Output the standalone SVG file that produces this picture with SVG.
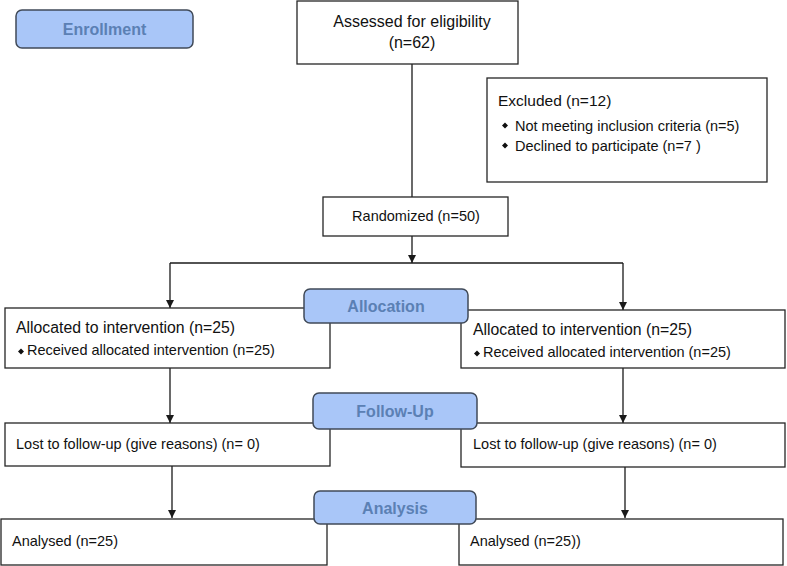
<svg xmlns="http://www.w3.org/2000/svg" width="787" height="566" viewBox="0 0 787 566">
<style>
.box{fill:#fff;stroke:#262626;stroke-width:1.3}
.ban{fill:#a9c6f8;stroke:#404a58;stroke-width:1.5}
.bt{font-family:"Liberation Sans",Arial,sans-serif;font-weight:bold;font-size:16px;fill:#5b80b4;text-anchor:middle}
.t{font-family:"Liberation Sans",Arial,sans-serif;font-size:14.5px;fill:#111}
.c{text-anchor:middle}
.ln{stroke:#1a1a1a;stroke-width:1.3;fill:none}
</style>
<defs>
<marker id="ah" viewBox="0 0 10 10" refX="10" refY="5" markerWidth="8" markerHeight="8" markerUnits="userSpaceOnUse" orient="auto">
<path d="M0,0 L10,5 L0,10 Z" fill="#1a1a1a"/>
</marker>
</defs>
<rect width="787" height="566" fill="#fff"/>

<g id="connectors">
<line class="ln" x1="412" y1="64" x2="412" y2="197"/>
<line class="ln" x1="412" y1="236" x2="412" y2="263" marker-end="url(#ah)"/>
<line class="ln" x1="170" y1="263" x2="623" y2="263"/>
<line class="ln" x1="170" y1="263" x2="170" y2="308" marker-end="url(#ah)"/>
<line class="ln" x1="623" y1="263" x2="623" y2="310" marker-end="url(#ah)"/>
<line class="ln" x1="170" y1="368" x2="170" y2="423" marker-end="url(#ah)"/>
<line class="ln" x1="623" y1="368" x2="623" y2="423" marker-end="url(#ah)"/>
<line class="ln" x1="172" y1="466" x2="172" y2="518" marker-end="url(#ah)"/>
<line class="ln" x1="625" y1="467" x2="625" y2="518" marker-end="url(#ah)"/>
</g>

<g id="assessed">
<rect class="box" x="297" y="1" width="221" height="63"/>
<text class="t c" x="412" y="27" style="font-size:16px">Assessed for eligibility</text>
<text class="t c" x="412" y="48" style="font-size:16px">(n=62)</text>
</g>

<g id="excluded">
<rect class="box" x="487" y="78" width="280" height="104"/>
<text class="t" x="498" y="106" style="font-size:15.5px">Excluded (n=12)</text>
<path d="M505,122.5 l3,3 l-3,3 l-3,-3 Z M505,142.5 l3,3 l-3,3 l-3,-3 Z" fill="#111"/>
<text class="t" x="515" y="131">Not meeting inclusion criteria (n=5)</text>
<text class="t" x="515" y="151">Declined to participate (n=7 )</text>
</g>

<g id="randomized">
<rect class="box" x="323" y="197" width="185" height="39"/>
<text class="t c" x="416" y="221">Randomized (n=50)</text>
</g>

<g id="alloc-left">
<rect class="box" x="5" y="308" width="325" height="60"/>
<text class="t" x="16" y="333" style="font-size:15.8px">Allocated to intervention (n=25)</text>
<path d="M21,348.5 l3,3 l-3,3 l-3,-3 Z" fill="#111"/>
<text class="t" x="27" y="355">Received  allocated intervention (n=25)</text>
</g>

<g id="alloc-right">
<rect class="box" x="461" y="310" width="324" height="58"/>
<text class="t" x="473" y="335" style="font-size:15.8px">Allocated to intervention (n=25)</text>
<path d="M477,350.5 l3,3 l-3,3 l-3,-3 Z" fill="#111"/>
<text class="t" x="483" y="357">Received  allocated intervention (n=25)</text>
</g>

<g id="lost-left">
<rect class="box" x="5" y="423" width="325" height="43"/>
<text class="t" x="16" y="449">Lost to follow-up (give reasons) (n= 0)</text>
</g>

<g id="lost-right">
<rect class="box" x="461" y="423" width="324" height="44"/>
<text class="t" x="473" y="449">Lost to follow-up (give reasons) (n= 0)</text>
</g>

<g id="analysed-left">
<rect class="box" x="1" y="519" width="326" height="46"/>
<text class="t" x="12" y="546">Analysed (n=25)</text>
</g>

<g id="analysed-right">
<rect class="box" x="459" y="519" width="324" height="46"/>
<text class="t" x="470" y="546">Analysed (n=25))</text>
</g>

<g id="enrollment">
<rect class="ban" x="16" y="10" width="177" height="38" rx="6"/>
<text class="bt" x="104.5" y="35">Enrollment</text>
</g>

<g id="allocation">
<rect class="ban" x="304" y="289" width="164" height="34" rx="6"/>
<text class="bt" x="386" y="312">Allocation</text>
</g>

<g id="followup">
<rect class="ban" x="313" y="393" width="164" height="36" rx="6"/>
<text class="bt" x="395" y="417">Follow-Up</text>
</g>

<g id="analysis">
<rect class="ban" x="314" y="491" width="162" height="33" rx="6"/>
<text class="bt" x="395" y="514">Analysis</text>
</g>
</svg>
